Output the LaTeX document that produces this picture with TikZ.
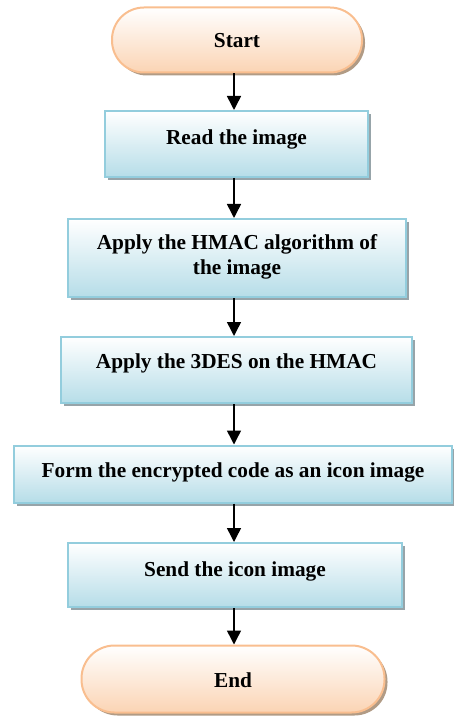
\documentclass[tikz,border=0pt]{standalone}
\usepackage{fontspec}
\setmainfont{Liberation Serif}
\usetikzlibrary{arrows.meta,shadows}
\definecolor{peachline}{HTML}{F9BE8F}
\definecolor{peachfill}{HTML}{FBD4B4}
\definecolor{peachshadow}{HTML}{A89078}
\definecolor{blueline}{HTML}{93CDDD}
\definecolor{bluefill}{HTML}{B6DDE8}
\definecolor{blueshadow}{HTML}{8C9AA0}
\tikzset{
  lbl/.style={font=\fontsize{21.3}{25}\selectfont\bfseries, align=center, inner sep=0pt},
  terminal/.style={draw=peachline, line width=2pt, top color=white, bottom color=peachfill,
    drop shadow={shadow xshift=3pt, shadow yshift=-3pt, fill=peachshadow, opacity=0.9},
    inner sep=0pt},
  stepbox/.style={draw=blueline, line width=2pt, top color=white, bottom color=bluefill,
    drop shadow={shadow xshift=3pt, shadow yshift=-3pt, fill=blueshadow, opacity=0.9},
    inner sep=0pt},
  arr/.style={line width=1.5pt, -{Triangle[width=14pt,length=14pt]}}
}
\begin{document}
\begin{tikzpicture}[x=1pt, y=-1pt]
\useasboundingbox (0,0) rectangle (453,719);

% terminals
\node[terminal, minimum width=250pt, minimum height=65pt, rounded corners=32pt] (start) at (237,40) {};
\node[lbl] at (237,41) {Start};

% process steps
\node[stepbox, minimum width=263pt, minimum height=66pt] (s1) at (236.5,144) {};
\node[lbl] at (236.5,139) {Read the image};

\node[stepbox, minimum width=338pt, minimum height=78pt] (s2) at (237,258) {};
\node[lbl] at (237,257) {Apply the HMAC algorithm of\\the image};

\node[stepbox, minimum width=351pt, minimum height=66pt] (s3) at (236.5,370) {};
\node[lbl] at (236.5,363) {Apply the 3DES on the HMAC};

\node[stepbox, minimum width=438pt, minimum height=57pt] (s4) at (233,474) {};
\node[lbl] at (233,472) {Form the encrypted code as an icon image};

\node[stepbox, minimum width=334pt, minimum height=64pt] (s5) at (235,575) {};
\node[lbl] at (235,571) {Send the icon image};

\node[terminal, minimum width=303pt, minimum height=67pt, rounded corners=33pt] (end) at (233,679) {};
\node[lbl] at (233,680) {End};

% connectors
\coordinate (ax) at (234,0);
\draw[arr] (start.south -| ax) -- (s1.north -| ax);
\draw[arr] (s1.south -| ax) -- (s2.north -| ax);
\draw[arr] (s2.south -| ax) -- (s3.north -| ax);
\draw[arr] (s3.south -| ax) -- (s4.north -| ax);
\draw[arr] (s4.south -| ax) -- (s5.north -| ax);
\draw[arr] (s5.south -| ax) -- (end.north -| ax);
\end{tikzpicture}
\end{document}
